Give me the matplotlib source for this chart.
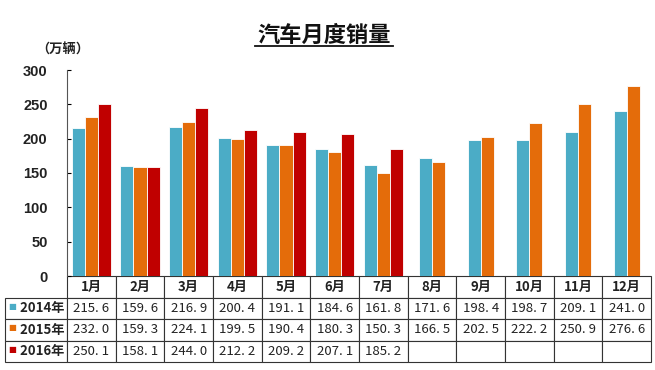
import numpy as np
from matplotlib import pyplot as plt

plt.rcParams['font.family'] = ['Noto Sans CJK SC', 'DejaVu Sans']

# DATOS
meses = ['1月', '2月', '3月', '4月', '5月', '6月', '7月', '8月', '9月', '10月', '11月', '12月']
series = ['2014年', '2015年', '2016年']
ventas_2014 = [215.6, 159.6, 216.9, 200.4, 191.1, 184.6, 161.8, 171.6, 198.4, 198.7, 209.1, 241.0]
ventas_2015 = [232.0, 159.3, 224.1, 199.5, 190.4, 180.3, 150.3, 166.5, 202.5, 222.2, 250.9, 276.6]
ventas_2016 = [250.1, 158.1, 244.0, 212.2, 209.2, 207.1, 185.2]
colores = ['#4BACC6', '#E46C0A', '#C00000']

datos = [ventas_2014, ventas_2015, ventas_2016]

fig = plt.figure(figsize=(6.55, 3.7), dpi=100)
ax = fig.add_axes([67 / 655, 1 - 276 / 370, 584 / 655, 206 / 370])

ancho = 0.27
for m in range(len(meses)):
    # series con dato en este mes
    activas = [s for s in range(len(series)) if m < len(datos[s])]
    n = len(activas)
    for k, s in enumerate(activas):
        x = m + 0.5 + (k - (n - 1) / 2) * ancho
        ax.bar(x, datos[s][m], width=ancho, color=colores[s],
               edgecolor='white', linewidth=0.6)

ax.set_xlim(0, 12)
ax.set_ylim(0, 300)
ax.set_yticks(np.arange(0, 301, 50))
ax.set_xticks([])
ax.tick_params(axis='y', direction='in', length=3, labelsize=10.5, pad=14)
for lbl in ax.get_yticklabels():
    lbl.set_fontweight('bold')
    lbl.set_family(['Liberation Sans'])
    lbl.set_color('#222222')
for lado in ['top', 'right', 'bottom']:
    ax.spines[lado].set_visible(False)
ax.spines['left'].set_color('#555555')
ax.spines['left'].set_linewidth(0.8)

# Tabla de datos
def fmt(v):
    return ('%.1f' % v).replace('.', '. ')

filas = []
for s in range(len(series)):
    fila = ['  ' + series[s]]
    for m in range(len(meses)):
        fila.append(fmt(datos[s][m]) if m < len(datos[s]) else '')
    filas.append(fila)

lw = 62 / 584
h = 86 / 206
tabla = ax.table(cellText=filas, colLabels=[''] + meses,
                 colWidths=[lw] + [1 / 12] * 12,
                 cellLoc='center', bbox=[-lw, -h, 1 + lw, h])
tabla.auto_set_font_size(False)
for (r, c), celda in tabla.get_celld().items():
    celda.set_edgecolor('#333333')
    celda.set_linewidth(0.8)
    celda.get_text().set_fontsize(9.5)
    celda.get_text().set_color('#222222')
    if r == 0:
        celda.get_text().set_fontweight('bold')
    if c == 0:
        celda.get_text().set_fontweight('bold')
        celda.get_text().set_ha('right')
        celda.PAD = 0.04
    if r == 0 and c == 0:
        celda.visible_edges = ''

# marcadores de la leyenda en la tabla
fig.canvas.draw()
for s in range(len(series)):
    celda = tabla[s + 1, 0]
    bb = celda.get_window_extent(fig.canvas.get_renderer())
    xf = (bb.x0 + 7) / fig.bbox.width
    yf = (bb.y0 + bb.height / 2 + 2) / fig.bbox.height
    fig.text(xf, yf, '■', color=colores[s], fontsize=6, ha='center', va='center',
             family=['DejaVu Sans'])

# Titulo y etiqueta del eje
fig.text(0.495, 1 - 35 / 370, '汽车月度销量', fontsize=16, fontweight='bold',
         ha='center', va='center', color='#111111')
fig.add_artist(plt.Line2D([255 / 655, 393 / 655], [1 - 46 / 370, 1 - 46 / 370],
                          color='#111111', linewidth=1.3))
fig.text(63 / 655, 1 - 50 / 370, '（万辆）', fontsize=9.5, fontweight='bold',
         ha='center', va='center', color='#222222')

plt.savefig('out.png', dpi=100)
